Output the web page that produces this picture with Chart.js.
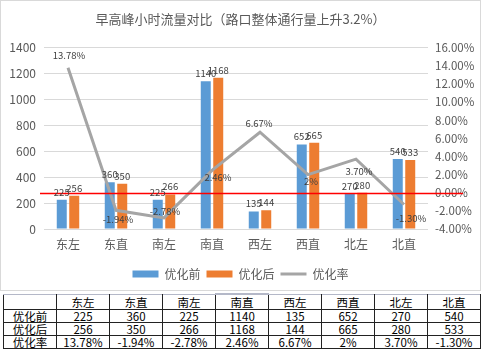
<!DOCTYPE html>
<html lang="zh">
<head>
<meta charset="UTF-8">
<title>早高峰小时流量对比</title>
<script src="https://cdn.jsdelivr.net/npm/chart.js"></script>
<style>
  body { margin: 0; background: #fff; font-family: "Noto Sans CJK SC", sans-serif; }
  #wrap { position: absolute; left: 0; top: 0; width: 479px; height: 289px; border: 1px solid #d9d9d9; }
  #tbl { position: absolute; left: 3px; top: 293px; border-collapse: collapse; table-layout: fixed;
         font-size: 11.5px; color: #000; }
  #tbl td { border: 1px solid #222; padding: 0; height: 12px; line-height: 12px; text-align: center; width: 52px; }
  #tbl tr:first-child td { border-top-color: #b4b8c8; height: 14px; }
  #tbl td.sel { border-top: 2px solid #21a366; }
</style>
</head>
<body>
<div id="wrap"><canvas id="c" width="479" height="289"></canvas></div>
<table id="tbl"></table>

<script>
// data
const categories = ['东左', '东直', '南左', '南直', '西左', '西直', '北左', '北直'];
const before = [225, 360, 225, 1140, 135, 652, 270, 540];
const after = [256, 350, 266, 1168, 144, 665, 280, 533];
const rate = [13.78, -1.94, -2.78, 2.46, 6.67, 2, 3.70, -1.30];
const rateText = ['13.78%', '-1.94%', '-2.78%', '2.46%', '6.67%', '2%', '3.70%', '-1.30%'];
const leftTicks = [0, 200, 400, 600, 800, 1000, 1200, 1400];
const rightTicks = [-4, -2, 0, 2, 4, 6, 8, 10, 12, 14, 16];

const FONT = '"Noto Sans CJK SC", sans-serif';
const TXT = '#595959';

// where each rate label sits relative to its point (dx, dy)
const rateLabelShift = [[1, -12], [2, 9], [1, -7], [6, 7], [-1, -9], [3, 7], [3, 12], [7, 14]];

const labelPlugin = {
  id: 'labels',
  afterDatasetsDraw(chart) {
    const ctx = chart.ctx;
    const area = chart.chartArea;
    const y1 = chart.scales.y1;

    // red zero line across the plot
    const zy = Math.round(y1.getPixelForValue(0)) + 0.5;
    ctx.save();
    ctx.strokeStyle = '#ff0000';
    ctx.lineWidth = 1.5;
    ctx.beginPath();
    ctx.moveTo(area.left - 4, zy);
    ctx.lineTo(area.right + 35, zy);
    ctx.stroke();

    ctx.font = '9.5px ' + FONT;
    ctx.fillStyle = '#404040';
    ctx.textAlign = 'center';

    // bar values
    [0, 1].forEach(di => {
      const meta = chart.getDatasetMeta(di);
      const vals = chart.data.datasets[di].data;
      ctx.textBaseline = 'bottom';
      meta.data.forEach((bar, i) => {
        ctx.fillText(String(vals[i]), bar.x, bar.y - 3);
      });
    });

    // rate values
    const lm = chart.getDatasetMeta(2);
    ctx.textBaseline = 'middle';
    lm.data.forEach((pt, i) => {
      const s = rateLabelShift[i];
      ctx.fillText(rateText[i], pt.x + s[0], pt.y + s[1]);
    });
    ctx.restore();
  }
};

new Chart(document.getElementById('c'), {
  data: {
    labels: categories,
    datasets: [
      {
        type: 'bar', label: '优化前', data: before, yAxisID: 'y',
        backgroundColor: '#5b9bd5', barPercentage: 0.8, categoryPercentage: 0.52, order: 1
      },
      {
        type: 'bar', label: '优化后', data: after, yAxisID: 'y',
        backgroundColor: '#ed7d31', barPercentage: 0.8, categoryPercentage: 0.52, order: 1
      },
      {
        type: 'line', label: '优化率', data: rate, yAxisID: 'y1',
        borderColor: '#a5a5a5', backgroundColor: '#a5a5a5', borderWidth: 3,
        pointRadius: 0, tension: 0, order: 0
      }
    ]
  },
  options: {
    responsive: false,
    animation: false,
    layout: { padding: { left: 0, right: 0, top: 0, bottom: 0 } },
    plugins: {
      tooltip: { enabled: false },
      title: {
        display: true,
        text: '早高峰小时流量对比（路口整体通行量上升3.2%）',
        color: TXT,
        font: { family: FONT, size: 13, weight: 'normal' },
        padding: { top: 10, bottom: 21 }
      },
      legend: {
        position: 'bottom',
        labels: {
          usePointStyle: true,
          pointStyleWidth: 26,
          boxHeight: 7,
          padding: 6,
          color: TXT,
          font: { family: FONT, size: 12 },
          sort: (a, b) => a.datasetIndex - b.datasetIndex,
          generateLabels(chart) {
            const items = Chart.defaults.plugins.legend.labels.generateLabels(chart);
            items.forEach(it => {
              const ds = chart.data.datasets[it.datasetIndex];
              it.pointStyle = ds.type === 'line' ? 'line' : 'rect';
              if (ds.type === 'line') { it.strokeStyle = '#a5a5a5'; it.lineWidth = 3; }
              else { it.lineWidth = 0; }
            });
            return items;
          }
        }
      }
    },
    scales: {
      x: {
        afterFit: s => { s.height = 33; },
        grid: { display: false, drawTicks: false },
        border: { display: false },
        ticks: { color: TXT, font: { family: FONT, size: 12 }, padding: 8 }
      },
      y: {
        position: 'left',
        min: 0, max: 1400,
        afterBuildTicks: s => { s.ticks = leftTicks.map(v => ({ value: v })); },
        afterFit: s => { s.width = 43; },
        grid: { color: '#d9d9d9', drawTicks: false },
        border: { display: false },
        ticks: { color: TXT, font: { family: FONT, size: 12 }, padding: 8, callback: v => String(v) }
      },
      y1: {
        position: 'right',
        min: -4, max: 16,
        afterBuildTicks: s => { s.ticks = rightTicks.map(v => ({ value: v })); },
        afterFit: s => { s.width = 52; },
        grid: { display: false, drawTicks: false },
        border: { display: false },
        ticks: {
          color: TXT, font: { family: FONT, size: 11.5 }, padding: 7,
          callback: v => v.toFixed(2) + '%'
        }
      }
    }
  },
  plugins: [labelPlugin]
});

// data table under the chart
const tbl = document.getElementById('tbl');
const rows = [[''].concat(categories), ['优化前'].concat(before), ['优化后'].concat(after), ['优化率'].concat(rateText)];
rows.forEach((r, ri) => {
  const tr = document.createElement('tr');
  r.forEach((v, ci) => {
    const td = document.createElement('td');
    td.textContent = v;
    if (ri === 0 && ci === 4) td.className = 'sel';
    tr.appendChild(td);
  });
  tbl.appendChild(tr);
});
</script>
</body>
</html>
